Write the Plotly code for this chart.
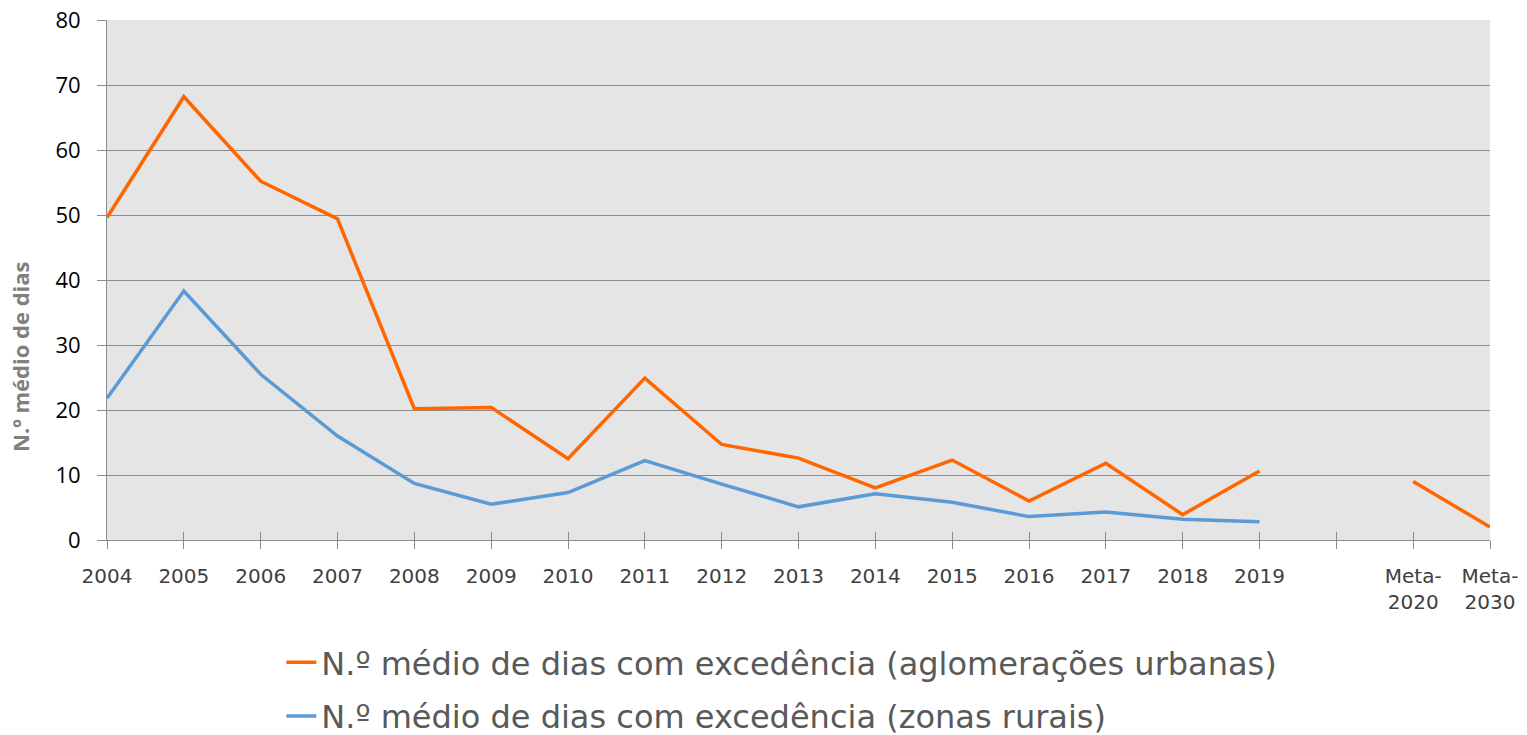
import plotly.graph_objects as go

categories = ["2004", "2005", "2006", "2007", "2008", "2009", "2010", "2011", "2012",
              "2013", "2014", "2015", "2016", "2017", "2018", "2019", " ",
              "Meta-<br>2020", "Meta-<br>2030"]

urbanas = [49.6, 68.2, 55.2, 49.4, 20.2, 20.4, 12.5, 24.9, 14.7,
           12.6, 8.0, 12.3, 6.0, 11.8, 3.9, 10.6, None, 9.0, 2.0]

rurais = [21.8, 38.3, 25.5, 16.0, 8.7, 5.5, 7.3, 12.2, 8.6,
          5.1, 7.1, 5.8, 3.6, 4.3, 3.2, 2.8, None, None, None]

name_urb = "N.º médio de dias com excedência (aglomerações urbanas)"
name_rur = "N.º médio de dias com excedência (zonas rurais)"
y_title = "N.º médio de dias"

fig = go.Figure()
fig.add_trace(go.Scatter(x=categories, y=urbanas, mode="lines", name=name_urb,
                         line=dict(color="#FF6600", width=3.5), legendgroup="a",
                         connectgaps=False))
fig.add_trace(go.Scatter(x=categories, y=rurais, mode="lines", name=name_rur,
                         line=dict(color="#5B9BD5", width=3.5), legendgroup="b",
                         connectgaps=False))
# invisible helper trace for the inner half of the crossing ticks
fig.add_trace(go.Scatter(x=categories, y=[0] * len(categories), xaxis="x2",
                         mode="lines", line=dict(width=0), showlegend=False,
                         hoverinfo="skip", opacity=0))

fig.update_layout(
    width=1527, height=735,
    margin=dict(l=107, r=37, t=20, b=195, autoexpand=False),
    paper_bgcolor="white",
    plot_bgcolor="#E5E5E5",
    showlegend=True,
    legend=dict(orientation="v", xref="container", yref="container",
                x=0.512, xanchor="center", y=0.136, yanchor="top",
                font=dict(family="DejaVu Sans", size=32, color="#595959"),
                traceorder="grouped", tracegroupgap=9,
                bgcolor="rgba(0,0,0,0)"),
    xaxis=dict(type="category", categoryorder="array", categoryarray=categories,
               range=[0, len(categories) - 1], automargin=False,
               showgrid=False, showline=True, linecolor="#8C8C8C", linewidth=1,
               ticks="outside", ticklen=8, tickcolor="#8C8C8C", tickwidth=1,
               ticklabelstandoff=10,
               tickfont=dict(family="DejaVu Sans", size=20, color="#404040"),
               zeroline=False),
    xaxis2=dict(type="category", categoryorder="array", categoryarray=categories,
                range=[0, len(categories) - 1], overlaying="x", side="bottom",
                automargin=False,
                showgrid=False, showline=False, showticklabels=False,
                ticks="inside", ticklen=8, tickcolor="#8C8C8C", tickwidth=1),
    yaxis=dict(range=[0, 80], dtick=10, showgrid=True, gridcolor="#8C8C8C", gridwidth=1,
               showline=True, linecolor="#8C8C8C", linewidth=1, automargin=False,
               ticks="outside", ticklen=9, tickcolor="#8C8C8C",
               ticklabelstandoff=12,
               tickfont=dict(family="Open Sans", size=22, color="#000000"),
               zeroline=False),
    annotations=[dict(text=y_title, textangle=-90, showarrow=False,
                      xref="paper", yref="paper", x=-0.0629, y=0.352,
                      xanchor="center", yanchor="middle",
                      font=dict(family="Open Sans", size=22, color="#808080",
                                weight="bold"))],
)

fig.write_html("out.html", config={"displayModeBar": False},
               post_script="document.body.style.margin='0';"
               "window.dispatchEvent(new Event('resize'));")
